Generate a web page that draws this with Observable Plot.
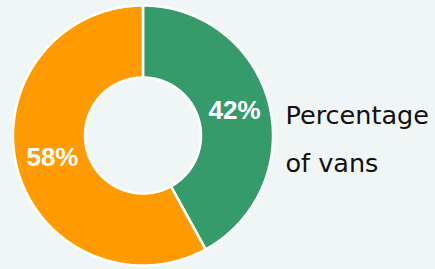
<!DOCTYPE html>
<html><head><meta charset="utf-8">
<script src="https://cdn.jsdelivr.net/npm/d3@7"></script>
<script src="https://cdn.jsdelivr.net/npm/@observablehq/plot@0.6"></script>
<style>html,body{margin:0;padding:0;background:#f0f5f5;overflow:hidden}</style>
</head><body><div id="chart"></div>
<script>
const categories = ["Vans", "Other vehicles"];
const values = [42, 58];
const labels = ["42%", "58%"];
const colors = ["#369b6b", "#ff9b00"];
const caption = "Percentage\nof vans";

const inner = 58 / 130;
const total = d3.sum(values);
let acc = 0;
const ring = [];
const labelPts = [];
values.forEach((v, i) => {
  const a0 = acc / total * 2 * Math.PI;
  acc += v;
  const a1 = acc / total * 2 * Math.PI;
  const n = Math.ceil((a1 - a0) / (Math.PI / 180));
  for (let k = 0; k <= n; k++) {
    const a = a0 + (a1 - a0) * k / n;
    ring.push({category: categories[i], xo: Math.sin(a), yo: Math.cos(a), xi: inner * Math.sin(a), yi: inner * Math.cos(a)});
  }
  const am = (a0 + a1) / 2, rl = (1 + inner) / 2;
  labelPts.push({label: labels[i], x: rl * Math.sin(am), y: rl * Math.cos(am)});
});

const chart = Plot.plot({
  width: 435, height: 269,
  marginLeft: 13, marginRight: 162, marginTop: 5.5, marginBottom: 3.5,
  x: {domain: [-1, 1], axis: null},
  y: {domain: [-1, 1], axis: null},
  color: {domain: categories, range: colors},
  style: {background: "transparent", overflow: "visible", fontFamily: "Liberation Sans, Arial, sans-serif"},
  marks: [
    Plot.area(ring, {x1: "xo", y1: "yo", x2: "xi", y2: "yi", z: "category", fill: "category", stroke: "white", strokeWidth: 2.5, strokeLinejoin: "miter"}),
    Plot.text(labelPts, {x: "x", y: "y", text: "label", fill: "white", fontSize: 26, fontWeight: "bold", dy: -2}),
    Plot.text([caption], {frameAnchor: "right", textAnchor: "start", lineAnchor: "middle", dx: 12, dy: -3, lineHeight: 1.86, fontSize: 25.5, fontFamily: "DejaVu Sans", fill: "#111"})
  ]
});
document.getElementById("chart").appendChild(chart);
</script>
</body></html>
